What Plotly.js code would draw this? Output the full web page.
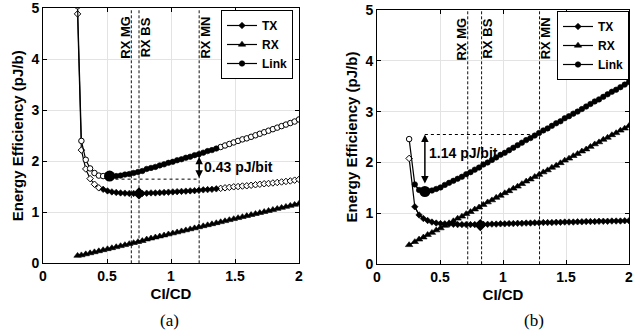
<!DOCTYPE html>
<html>
<head>
<meta charset="utf-8">
<script src="https://cdn.plot.ly/plotly-3.0.1.min.js"></script>
<style>html,body{margin:0;padding:0;background:#fff;}#chart{width:642px;height:335px;}</style>
</head>
<body>
<div id="chart"></div>
<script>
// ---------- data: panel (a) ----------
const xA = [0.27, 0.30, 0.334, 0.368, 0.402, 0.436, 0.47, 0.504, 0.538, 0.572, 0.606, 0.64, 0.674, 0.708, 0.742, 0.776, 0.81, 0.844, 0.878, 0.912, 0.946, 0.98, 1.014, 1.048, 1.082, 1.116, 1.15, 1.184, 1.218, 1.252, 1.286, 1.32, 1.354, 1.388, 1.422, 1.456, 1.49, 1.524, 1.558, 1.592, 1.626, 1.66, 1.694, 1.728, 1.762, 1.796, 1.83, 1.864, 1.898, 1.932, 1.966, 2.0];
const txA = [4.89, 2.22, 1.85, 1.66, 1.55, 1.48, 1.45, 1.42, 1.40, 1.39, 1.38, 1.375, 1.37, 1.37, 1.37, 1.37, 1.375, 1.38, 1.38, 1.385, 1.39, 1.395, 1.40, 1.405, 1.41, 1.415, 1.42, 1.425, 1.43, 1.44, 1.445, 1.45, 1.46, 1.47, 1.48, 1.49, 1.50, 1.505, 1.515, 1.52, 1.53, 1.54, 1.55, 1.56, 1.565, 1.575, 1.585, 1.595, 1.605, 1.615, 1.63, 1.645];
const rxA = [0.15, 0.16, 0.18, 0.20, 0.22, 0.24, 0.26, 0.28, 0.30, 0.32, 0.34, 0.36, 0.38, 0.40, 0.42, 0.44, 0.47, 0.49, 0.51, 0.53, 0.55, 0.57, 0.59, 0.61, 0.63, 0.65, 0.67, 0.69, 0.71, 0.73, 0.75, 0.77, 0.79, 0.81, 0.83, 0.85, 0.87, 0.89, 0.91, 0.93, 0.95, 0.97, 0.99, 1.01, 1.03, 1.05, 1.07, 1.09, 1.11, 1.13, 1.15, 1.17];
const linkA = [5.04, 2.40, 2.03, 1.86, 1.77, 1.72, 1.71, 1.70, 1.70, 1.71, 1.72, 1.74, 1.75, 1.77, 1.79, 1.81, 1.85, 1.87, 1.89, 1.92, 1.94, 1.97, 1.99, 2.02, 2.04, 2.07, 2.09, 2.12, 2.14, 2.17, 2.20, 2.22, 2.25, 2.28, 2.31, 2.34, 2.37, 2.40, 2.43, 2.45, 2.48, 2.51, 2.54, 2.57, 2.60, 2.63, 2.66, 2.69, 2.72, 2.75, 2.78, 2.82];
const optLinkA = [0.52, 1.71];   // highlighted Link optimum (x, y)
const optTxA = [0.75, 1.37];     // highlighted TX point (x, y)
const rxLinesA = [0.69, 0.75, 1.22];
const gapA = [1.22, 1.65, 2.09]; // arrow x, from y, to y
const gapLabelA = '0.43 pJ/bit';
const validTxA = [0.46, 1.36];
const validLinkA = [0.49, 1.36];

// ---------- data: panel (b) ----------
const xB = [0.255, 0.30, 0.334, 0.368, 0.402, 0.436, 0.47, 0.504, 0.538, 0.572, 0.606, 0.64, 0.674, 0.708, 0.742, 0.776, 0.81, 0.844, 0.878, 0.912, 0.946, 0.98, 1.014, 1.048, 1.082, 1.116, 1.15, 1.184, 1.218, 1.252, 1.286, 1.32, 1.354, 1.388, 1.422, 1.456, 1.49, 1.524, 1.558, 1.592, 1.626, 1.66, 1.694, 1.728, 1.762, 1.796, 1.83, 1.864, 1.898, 1.932, 1.966, 2.0];
const txB = [2.08, 1.13, 0.97, 0.90, 0.86, 0.83, 0.81, 0.80, 0.795, 0.79, 0.785, 0.78, 0.78, 0.78, 0.78, 0.78, 0.78, 0.785, 0.785, 0.79, 0.79, 0.795, 0.795, 0.80, 0.80, 0.805, 0.805, 0.81, 0.81, 0.815, 0.815, 0.82, 0.82, 0.82, 0.825, 0.825, 0.83, 0.83, 0.83, 0.835, 0.835, 0.84, 0.84, 0.84, 0.845, 0.845, 0.845, 0.85, 0.85, 0.85, 0.855, 0.855];
const rxB = [0.38, 0.44, 0.49, 0.53, 0.58, 0.62, 0.67, 0.71, 0.76, 0.81, 0.85, 0.90, 0.94, 0.99, 1.03, 1.08, 1.12, 1.17, 1.22, 1.26, 1.31, 1.35, 1.40, 1.44, 1.49, 1.53, 1.58, 1.63, 1.67, 1.72, 1.76, 1.81, 1.85, 1.90, 1.94, 1.99, 2.04, 2.08, 2.13, 2.17, 2.22, 2.26, 2.31, 2.36, 2.40, 2.45, 2.49, 2.54, 2.58, 2.63, 2.67, 2.72];
const linkB = [2.46, 1.57, 1.46, 1.43, 1.44, 1.45, 1.48, 1.51, 1.56, 1.60, 1.64, 1.68, 1.72, 1.77, 1.81, 1.86, 1.90, 1.96, 2.00, 2.05, 2.10, 2.15, 2.19, 2.24, 2.29, 2.34, 2.39, 2.44, 2.48, 2.53, 2.58, 2.63, 2.67, 2.72, 2.77, 2.81, 2.87, 2.91, 2.96, 3.00, 3.05, 3.10, 3.15, 3.20, 3.24, 3.29, 3.34, 3.39, 3.43, 3.48, 3.53, 3.58];
const optLinkB = [0.38, 1.43];
const optTxB = [0.82, 0.77];
const rxLinesB = [0.72, 0.83, 1.29];
const gapB = [0.38, 1.56, 2.55];
const gapLabelB = '1.14 pJ/bit';
const validTxB = [0.28, 2.01];
const validLinkB = [0.28, 2.01];

const rxLineLabels = ['RX MG', 'RX BS', 'RX MN'];
const seriesNames = ['TX', 'RX', 'Link'];
const panelLabels = ['(a)', '(b)'];

// ---------- build ----------
const FONT = 'Liberation Sans, Arial, sans-serif';
const traces = [];

function addSeries(xs, ys, sym, size, valid, xa, ya, name, legend) {
  traces.push({x: xs, y: ys, xaxis: xa, yaxis: ya, mode: 'lines', type: 'scatter',
    line: {color: '#000', width: 1.2}, showlegend: false, hoverinfo: 'skip'});
  const ox = [], oy = [], fx = [], fy = [];
  xs.forEach((v, i) => {
    if (v >= valid[0] && v <= valid[1]) { fx.push(v); fy.push(ys[i]); }
    else { ox.push(v); oy.push(ys[i]); }
  });
  if (ox.length) traces.push({x: ox, y: oy, xaxis: xa, yaxis: ya, mode: 'markers', type: 'scatter',
    marker: {symbol: sym, size: size, color: '#fff', line: {color: '#000', width: 1}},
    showlegend: false, hoverinfo: 'skip'});
  traces.push({x: fx, y: fy, xaxis: xa, yaxis: ya, mode: 'lines+markers', type: 'scatter',
    name: name, legend: legend,
    line: {color: '#000', width: 1.2},
    marker: {symbol: sym, size: size, color: '#000', line: {color: '#000', width: 0.6}}});
}

function panel(xs, tx, rx, link, vTx, vLink, xa, ya, legend) {
  addSeries(xs, tx, 'diamond', 5, vTx, xa, ya, seriesNames[0], legend);
  addSeries(xs, rx, 'triangle-up', 6.5, [0, 10], xa, ya, seriesNames[1], legend);
  addSeries(xs, link, 'circle', 5.5, vLink, xa, ya, seriesNames[2], legend);
}
panel(xA, txA, rxA, linkA, validTxA, validLinkA, 'x', 'y', 'legend');
panel(xB, txB, rxB, linkB, validTxB, validLinkB, 'x2', 'y2', 'legend2');

function bigMarks(optLink, optTx, xa, ya) {
  traces.push({x: [optLink[0]], y: [optLink[1]], xaxis: xa, yaxis: ya, mode: 'markers', type: 'scatter',
    marker: {symbol: 'circle', size: 11, color: '#000'}, showlegend: false, hoverinfo: 'skip'});
  traces.push({x: [optTx[0]], y: [optTx[1]], xaxis: xa, yaxis: ya, mode: 'markers', type: 'scatter',
    marker: {symbol: 'diamond', size: 9.5, color: '#000'}, showlegend: false, hoverinfo: 'skip'});
}
bigMarks(optLinkA, optTxA, 'x', 'y');
bigMarks(optLinkB, optTxB, 'x2', 'y2');

const shapes = [];
const annotations = [];
function decorate(lines, gap, optLink, dottedY, label, labelX, labelY, xr, yr) {
  lines.forEach((v, i) => {
    shapes.push({type: 'line', xref: xr, yref: yr, x0: v, x1: v, y0: 0, y1: 5, layer: 'between',
      line: {color: '#111', width: 1, dash: '3px,2px'}});
    annotations.push({xref: xr, yref: yr, x: v, y: 4.43, xanchor: 'center', yanchor: 'middle',
      xshift: i === 0 ? -6 : 6, textangle: -90, showarrow: false, text: rxLineLabels[i],
      font: {family: FONT, size: 13, weight: 'bold', color: '#000'}});
  });
  // dotted reference line from optimum to the MN line
  shapes.push({type: 'line', xref: xr, yref: yr, x0: optLink[0], x1: lines[2], y0: dottedY, y1: dottedY,
    line: {color: '#000', width: 1, dash: 'dot'}});
  annotations.push({xref: xr, yref: yr, axref: xr, ayref: yr, x: gap[0], y: gap[2], ax: gap[0], ay: gap[1],
    text: '', showarrow: true, arrowhead: 2, arrowside: 'end+start', arrowsize: 1, arrowwidth: 1.5,
    arrowcolor: '#000', standoff: 0, startstandoff: 0});
  annotations.push({xref: xr, yref: yr, x: labelX, y: labelY, xanchor: 'left', yanchor: 'middle',
    showarrow: false, text: label, font: {family: FONT, size: 14, weight: 'bold', color: '#000'}});
}
decorate(rxLinesA, gapA, optLinkA, gapA[1], gapLabelA, 1.245, 1.89, 'x', 'y');
decorate(rxLinesB, gapB, optLinkB, gapB[2], gapLabelB, 0.395, 2.19, 'x2', 'y2');

annotations.push({xref: 'paper', yref: 'paper', x: 170 / 642, y: 1 - 320 / 335, xanchor: 'center', yanchor: 'middle',
  showarrow: false, text: panelLabels[0], font: {family: 'Liberation Serif, Times New Roman, serif', size: 17, color: '#000'}});
annotations.push({xref: 'paper', yref: 'paper', x: 534 / 642, y: 1 - 320 / 335, xanchor: 'center', yanchor: 'middle',
  showarrow: false, text: panelLabels[1], font: {family: 'Liberation Serif, Times New Roman, serif', size: 17, color: '#000'}});

function xaxis(domain, anchor) {
  return {domain: domain, anchor: anchor, range: [0, 2], dtick: 0.5, tick0: 0,
    ticks: 'inside', ticklen: 4, tickcolor: '#000', showline: true, linecolor: '#000', linewidth: 1,
    mirror: 'ticks', showgrid: true, gridcolor: '#e3e3e3', zeroline: false,
    tickfont: {family: FONT, size: 14, weight: 'bold', color: '#000'},
    title: {text: 'CI/CD', standoff: 5, font: {family: FONT, size: 15, weight: 'bold', color: '#000'}}};
}
function yaxis(domain, anchor) {
  return {domain: domain, anchor: anchor, range: [0, 5], dtick: 1, tick0: 0,
    ticks: 'inside', ticklen: 4, tickcolor: '#000', showline: true, linecolor: '#000', linewidth: 1,
    mirror: 'ticks', showgrid: true, gridcolor: '#e3e3e3', zeroline: false,
    tickfont: {family: FONT, size: 14, weight: 'bold', color: '#000'},
    title: {text: 'Energy Efficiency (pJ/b)', standoff: 4, font: {family: FONT, size: 15, weight: 'bold', color: '#000'}}};
}
function legendBox(x, y) {
  return {x: x, y: y, xanchor: 'right', yanchor: 'top', bgcolor: '#fff', bordercolor: '#000', borderwidth: 1,
    font: {family: FONT, size: 12, weight: 'bold', color: '#000'}, itemwidth: 30, traceorder: 'normal',
    tracegroupgap: 0};
}

const layout = {
  width: 642, height: 335,
  margin: {l: 0, r: 0, t: 0, b: 0},
  paper_bgcolor: '#fff', plot_bgcolor: '#fff',
  font: {family: FONT, color: '#000'},
  xaxis: xaxis([43 / 642, 299 / 642], 'y'),
  yaxis: yaxis([1 - 263.3 / 335, 1 - 8.3 / 335], 'x'),
  xaxis2: xaxis([377 / 642, 629 / 642], 'y2'),
  yaxis2: yaxis([1 - 264.3 / 335, 1 - 9.8 / 335], 'x2'),
  legend: legendBox(293 / 642, 1 - 10 / 335),
  legend2: legendBox(629 / 642, 1 - 11 / 335),
  shapes: shapes,
  annotations: annotations,
  showlegend: true
};

Plotly.newPlot('chart', traces, layout, {staticPlot: true, displayModeBar: false});
</script>
</body>
</html>
